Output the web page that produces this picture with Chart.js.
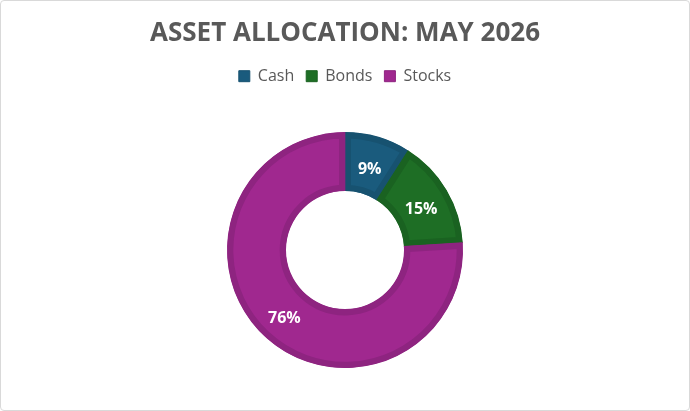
<!DOCTYPE html>
<html lang="en">
<head>
  <meta charset="UTF-8" />
  <title>Asset Allocation</title>
  <script src="https://cdn.jsdelivr.net/npm/chart.js"></script>
  <style>
    html, body { margin: 0; padding: 0; background: #fff; }
    .frame {
      position: absolute;
      left: 0; top: 0;
      width: 688px; height: 409px;
      border: 1px solid #d9d9d9;
      border-radius: 4px;
      background: #fff;
    }
    canvas { display: block; }
  </style>
</head>
<body>
  <div class="frame">
    <canvas id="donut" width="688" height="409"></canvas>
  </div>

  <script>
    const categories = ["Cash", "Bonds", "Stocks"];
    const shares = [9, 15, 76];
    const fills = ["#1a5b7d", "#1e6e25", "#a0288f"];
    const edges = ["#175270", "#1a6221", "#8e2480"];

    // draws "9%" etc. at the middle of each slice
    const sliceLabels = {
      id: "sliceLabels",
      afterDatasetsDraw(chart) {
        const ctx = chart.ctx;
        const meta = chart.getDatasetMeta(0);
        ctx.save();
        ctx.fillStyle = "#ffffff";
        ctx.font = "bold 16px 'Open Sans', sans-serif";
        ctx.textAlign = "center";
        ctx.textBaseline = "middle";
        meta.data.forEach((arc, i) => {
          const p = arc.tooltipPosition();
          ctx.fillText(shares[i] + "%", p.x, p.y + 4);
        });
        ctx.restore();
      }
    };

    new Chart(document.getElementById("donut"), {
      type: "doughnut",
      data: {
        labels: categories,
        datasets: [{
          data: shares,
          backgroundColor: fills,
          borderColor: edges,
          borderWidth: 6,
          borderAlign: "inner",
          radius: 118
        }]
      },
      options: {
        responsive: false,
        animation: false,
        cutout: "50%",
        layout: { padding: { top: 3, bottom: 4 } },
        plugins: {
          title: {
            display: true,
            text: "ASSET ALLOCATION: MAY 2026",
            color: "#595959",
            font: { family: "'Open Sans', sans-serif", size: 26, weight: "bold" },
            padding: { top: 14, bottom: 7 }
          },
          legend: {
            position: "top",
            labels: {
              color: "#595959",
              font: { family: "'Open Sans', sans-serif", size: 16 },
              boxWidth: 11,
              boxHeight: 11,
              padding: 12,
              generateLabels(chart) {
                return categories.map((c, i) => ({
                  text: c,
                  fillStyle: fills[i],
                  strokeStyle: edges[i],
                  lineWidth: 1,
                  index: i,
                  fontColor: "#595959"
                }));
              }
            }
          },
          tooltip: { enabled: false }
        }
      },
      plugins: [sliceLabels]
    });
  </script>
</body>
</html>
